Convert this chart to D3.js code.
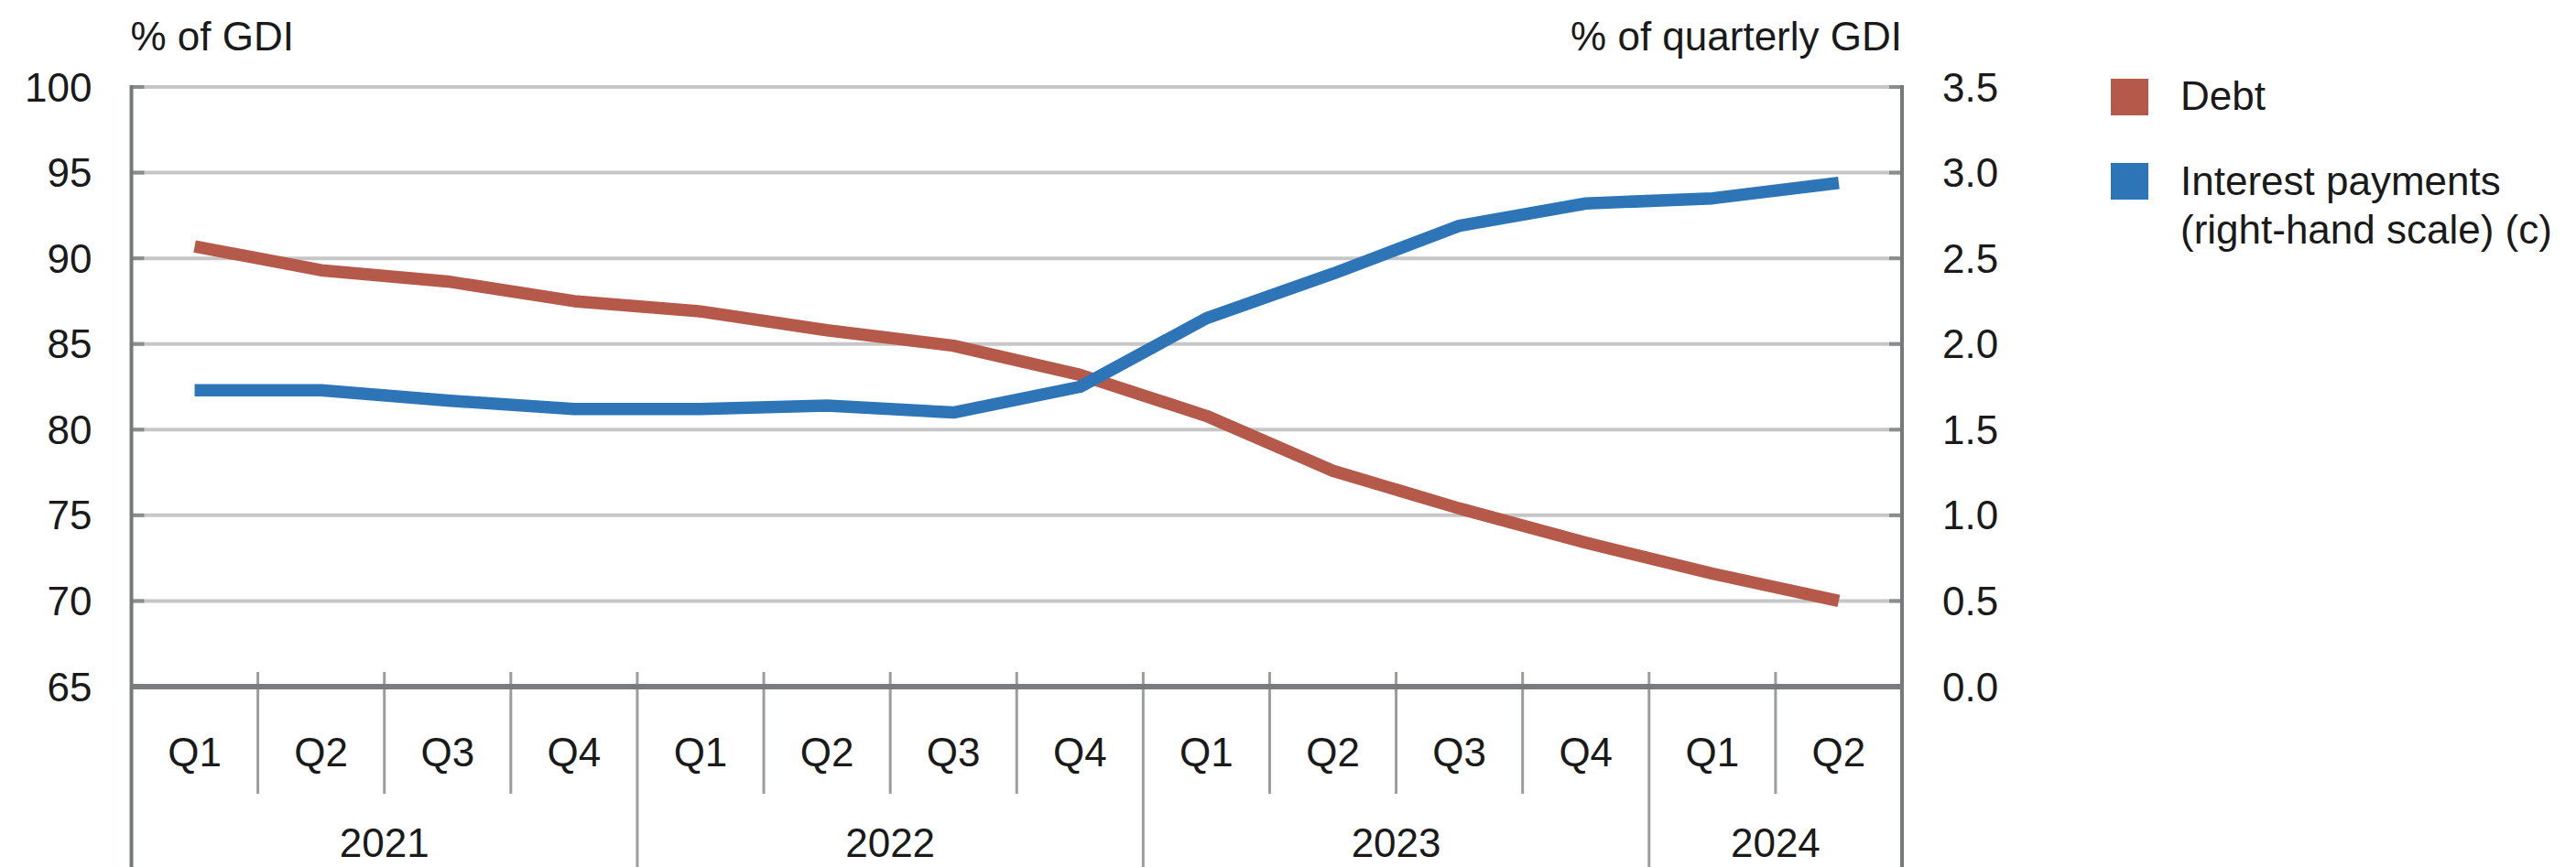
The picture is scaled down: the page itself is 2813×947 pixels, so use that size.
<!DOCTYPE html>
<html>
<head>
<meta charset="utf-8">
<script src="https://cdn.jsdelivr.net/npm/d3@7"></script>
<style>
  html, body { margin: 0; padding: 0; background: #fff; }
  svg text { font-family: "Liberation Sans", Arial, sans-serif; fill: #1a1a1a; }
</style>
</head>
<body>
<svg id="chart" width="2813" height="947"></svg>
<script>
// ---- data ----
const quarters = ["Q1","Q2","Q3","Q4","Q1","Q2","Q3","Q4","Q1","Q2","Q3","Q4","Q1","Q2"];
const yearLabels = ["2021","2022","2023","2024"];
const yearQuarterCounts = [4, 4, 4, 2];
const debt = [90.7, 89.3, 88.65, 87.5, 86.9, 85.8, 84.9, 83.2, 80.8, 77.6, 75.4, 73.4, 71.6, 70.0];
const interest = [1.73, 1.73, 1.67, 1.62, 1.62, 1.64, 1.60, 1.75, 2.15, 2.41, 2.69, 2.82, 2.85, 2.94];
const leftTicks = [65, 70, 75, 80, 85, 90, 95, 100];
const rightTicks = [0, 0.5, 1, 1.5, 2, 2.5, 3, 3.5];
const seriesNames = ["Debt", "Interest payments", "(right-hand scale) (c)"];
const leftUnit = "% of GDI";
const rightUnit = "% of quarterly GDI";

// ---- layout ----
const L = 143.5, R = 2077, T = 95, B = 750, H = 947;
const red = "#b55a4b", blue = "#2e75b8";
const svg = d3.select("#chart");

const x = d3.scaleBand().domain(d3.range(quarters.length)).range([L, R]).padding(0);
const yL = d3.scaleLinear().domain([65, 100]).range([B, T]);
const yR = d3.scaleLinear().domain([0, 3.5]).range([B, T]);

// gridlines
svg.append("g").selectAll("line").data(leftTicks.filter(d => d > 65)).join("line")
  .attr("x1", L).attr("x2", R).attr("y1", d => yL(d)).attr("y2", d => yL(d))
  .attr("stroke", "#c6c6c6").attr("stroke-width", 4);
// small inner ticks
svg.append("g").selectAll("line").data(leftTicks.filter(d => d > 65)).join("line")
  .attr("x1", L).attr("x2", L + 14).attr("y1", d => yL(d)).attr("y2", d => yL(d))
  .attr("stroke", "#8a8c8e").attr("stroke-width", 4);
svg.append("g").selectAll("line").data(rightTicks.filter(d => d > 0)).join("line")
  .attr("x1", R - 14).attr("x2", R).attr("y1", d => yR(d)).attr("y2", d => yR(d))
  .attr("stroke", "#8a8c8e").attr("stroke-width", 4);

// left axis labels
const axL = svg.append("g").attr("transform", `translate(${L},0)`)
  .call(d3.axisLeft(yL).tickValues(leftTicks).tickSize(0).tickPadding(43).tickFormat(d3.format("d")));
axL.select(".domain").remove();
axL.selectAll("text").attr("font-size", 44).attr("dy", 15).style("font-family", "Liberation Sans, Arial, sans-serif").attr("fill", "#1a1a1a");

// right axis labels
const axR = svg.append("g").attr("transform", `translate(${R},0)`)
  .call(d3.axisRight(yR).tickValues(rightTicks).tickSize(0).tickPadding(44).tickFormat(d3.format(".1f")));
axR.select(".domain").remove();
axR.selectAll("text").attr("font-size", 44).attr("dy", 15).style("font-family", "Liberation Sans, Arial, sans-serif").attr("fill", "#1a1a1a");

// quarter separators
const sepIdx = d3.range(1, quarters.length);
const yearBounds = d3.cumsum(yearQuarterCounts);
svg.append("g").selectAll("line").data(sepIdx).join("line")
  .attr("x1", d => x(d)).attr("x2", d => x(d))
  .attr("y1", B - 16)
  .attr("y2", d => yearBounds.includes(d) ? H : 867)
  .attr("stroke", "#9a9c9e").attr("stroke-width", 3);

// vertical axis lines
svg.append("line").attr("x1", L).attr("x2", L).attr("y1", T - 2).attr("y2", H)
  .attr("stroke", "#76797c").attr("stroke-width", 4);
svg.append("line").attr("x1", R).attr("x2", R).attr("y1", T - 2).attr("y2", H)
  .attr("stroke", "#76797c").attr("stroke-width", 4);
// bottom axis
svg.append("line").attr("x1", L).attr("x2", R).attr("y1", B).attr("y2", B)
  .attr("stroke", "#797c7f").attr("stroke-width", 6);

// quarter labels
svg.append("g").selectAll("text").data(quarters).join("text")
  .attr("x", (d, i) => x(i) + x.bandwidth() / 2).attr("y", 837)
  .attr("text-anchor", "middle").attr("font-size", 44).text(d => d);

// year labels
const yearStarts = [0, ...yearBounds.slice(0, -1)];
svg.append("g").selectAll("text").data(yearLabels).join("text")
  .attr("x", (d, i) => (x(yearStarts[i]) + x(yearStarts[i] + yearQuarterCounts[i] - 1) + x.bandwidth()) / 2)
  .attr("y", 936).attr("text-anchor", "middle").attr("font-size", 44).text(d => d);

// lines
const lineL = d3.line().x((d, i) => x(i) + x.bandwidth() / 2).y(d => yL(d));
const lineR = d3.line().x((d, i) => x(i) + x.bandwidth() / 2).y(d => yR(d));
svg.append("path").datum(debt).attr("d", lineL).attr("fill", "none")
  .attr("stroke", red).attr("stroke-width", 13.5).attr("stroke-linejoin", "round");
svg.append("path").datum(interest).attr("d", lineR).attr("fill", "none")
  .attr("stroke", blue).attr("stroke-width", 13.5).attr("stroke-linejoin", "round");

// unit labels
svg.append("text").attr("x", L - 1).attr("y", 55).attr("font-size", 44).text(leftUnit);
svg.append("text").attr("x", R).attr("y", 55).attr("text-anchor", "end").attr("font-size", 44).text(rightUnit);

// legend
svg.append("rect").attr("x", 2305).attr("y", 86).attr("width", 41).attr("height", 40).attr("fill", red);
svg.append("text").attr("x", 2381).attr("y", 120).attr("font-size", 44).text(seriesNames[0]);
svg.append("rect").attr("x", 2305).attr("y", 178).attr("width", 41).attr("height", 40).attr("fill", blue);
svg.append("text").attr("x", 2381).attr("y", 213).attr("font-size", 44).text(seriesNames[1]);
svg.append("text").attr("x", 2381).attr("y", 266).attr("font-size", 44).text(seriesNames[2]);
</script>
</body>
</html>
